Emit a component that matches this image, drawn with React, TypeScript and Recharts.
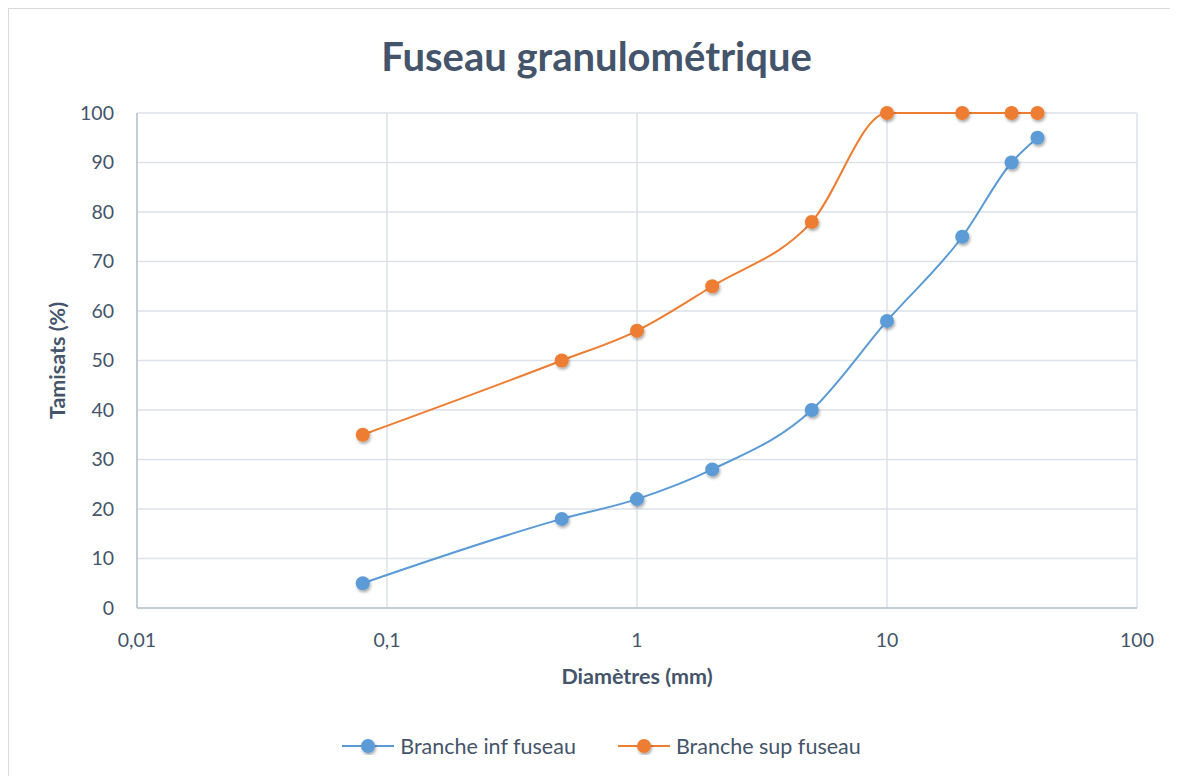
import React from 'react';
import { LineChart, Line, XAxis, YAxis, CartesianGrid, Legend } from 'recharts';

const diameters = [0.08, 0.5, 1, 2, 5, 10, 20, 31.5, 40];
const infValues = [5, 18, 22, 28, 40, 58, 75, 90, 95];
const supValues = [35, 50, 56, 65, 78, 100, 100, 100, 100];
const xTicks = [0.01, 0.1, 1, 10, 100];
const yTicks = [0, 10, 20, 30, 40, 50, 60, 70, 80, 90, 100];
const seriesNames = ['Branche inf fuseau', 'Branche sup fuseau'];
const colors = ['#5B9BD5', '#ED7D31'];

const data = diameters.map((d, i) => ({ d, inf: infValues[i], sup: supValues[i] }));

const FONT = 'Lato, "Open Sans", sans-serif';
const TEXT = '#44546a';

const fmt = (v: number) => String(v).replace('.', ',');

const LegendContent = () => (
  <div style={{ display: 'flex', justifyContent: 'center', gap: 42, fontFamily: FONT, fontSize: 21.5, color: TEXT }}>
    {seriesNames.map((n, i) => (
      <div key={n} style={{ display: 'flex', alignItems: 'center' }}>
        <svg width={52} height={18} style={{ marginRight: 6 }}>
          <line x1={0} y1={9} x2={52} y2={9} stroke={colors[i]} strokeWidth={2} />
          <circle cx={26} cy={9} r={7} fill={colors[i]} filter="url(#dotShadow)" />
        </svg>
        <span>{n}</span>
      </div>
    ))}
  </div>
);

export default function App() {
  return (
    <div style={{ position: 'relative', width: 1200, height: 800, border: '1px solid #d9d9d9', background: '#fff' }}>
      <svg width={0} height={0} style={{ position: 'absolute' }}>
        <defs>
          <filter id="dotShadow" x="-50%" y="-50%" width="200%" height="200%">
            <feDropShadow dx={1} dy={2} stdDeviation={1.5} floodColor="#000" floodOpacity={0.35} />
          </filter>
        </defs>
      </svg>
      <div style={{ position: 'absolute', top: 23, left: 0, width: 1175, textAlign: 'center', fontFamily: FONT, fontWeight: 'bold', fontSize: 40, color: TEXT }}>
        Fuseau granulométrique
      </div>
      <LineChart width={1200} height={800} data={data} margin={{ top: 104, right: 72, bottom: 140, left: 0 }}>
        <CartesianGrid stroke="#dde2ea" strokeWidth={1.5} />
        <XAxis
          dataKey="d"
          type="number"
          scale="log"
          domain={[0.01, 100]}
          ticks={xTicks}
          tickFormatter={fmt}
          allowDataOverflow
          height={61}
          tickLine={false}
          tickSize={0}
          tickMargin={25}
          axisLine={{ stroke: '#b7c2d2', strokeWidth: 1.5 }}
          tick={{ fill: TEXT, fontSize: 19.5, fontFamily: FONT }}
          label={{ value: 'Diamètres (mm)', position: 'bottom', offset: 0, fill: TEXT, fontSize: 21.5, fontWeight: 'bold', fontFamily: FONT }}
        />
        <YAxis
          type="number"
          domain={[0, 100]}
          ticks={yTicks}
          width={128}
          tickLine={false}
          tickSize={0}
          tickMargin={23}
          axisLine={{ stroke: '#b7c2d2', strokeWidth: 1.5 }}
          tick={{ fill: TEXT, fontSize: 19.5, fontFamily: FONT }}
          label={{ value: 'Tamisats (%)', angle: -90, position: 'insideLeft', offset: 48, fill: TEXT, fontSize: 21.5, fontWeight: 'bold', fontFamily: FONT, style: { textAnchor: 'middle' } }}
        />
        <Legend
          layout="horizontal"
          verticalAlign="middle"
          align="center"
          wrapperStyle={{ top: 724, left: 0, width: 1185 }}
          content={LegendContent}
        />
        <Line
          type="monotone"
          dataKey="inf"
          name={seriesNames[0]}
          stroke={colors[0]}
          strokeWidth={2}
          dot={{ r: 7, fill: colors[0], stroke: 'none', filter: 'url(#dotShadow)' }}
          activeDot={false}
          isAnimationActive={false}
        />
        <Line
          type="monotone"
          dataKey="sup"
          name={seriesNames[1]}
          stroke={colors[1]}
          strokeWidth={2}
          dot={{ r: 7, fill: colors[1], stroke: 'none', filter: 'url(#dotShadow)' }}
          activeDot={false}
          isAnimationActive={false}
        />
      </LineChart>
    </div>
  );
}
